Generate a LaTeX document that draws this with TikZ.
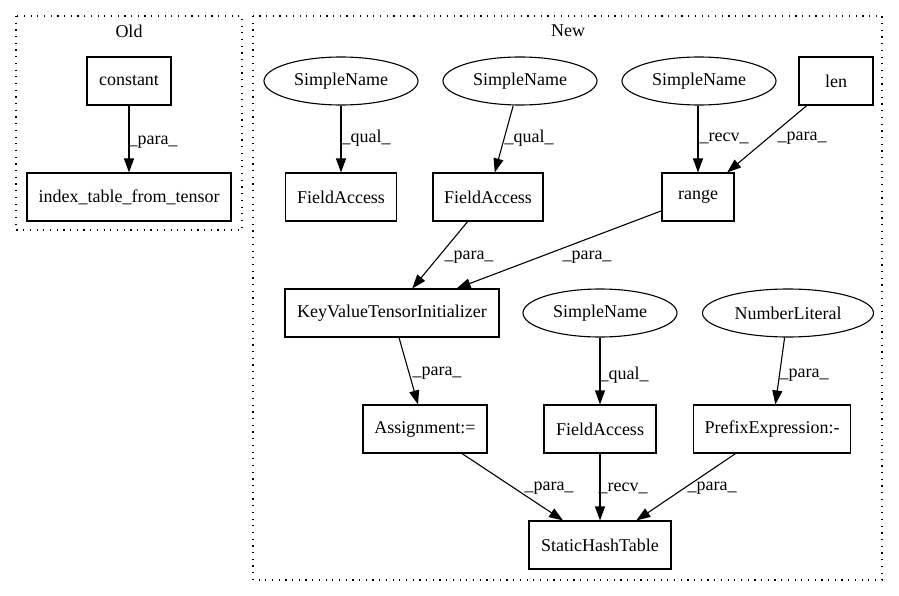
\documentclass[tikz,border=0pt]{standalone}
\usepackage{fontspec}
\setmainfont{Liberation Serif}
\usetikzlibrary{shapes.geometric,arrows.meta}
\begin{document}
\begin{tikzpicture}[x=1pt,y=-1pt,
  font=\fontsize{18}{20}\selectfont,
  box/.style={draw, rectangle, minimum height=48pt, inner sep=0pt, line width=1.1pt},
  ell/.style={draw, ellipse, minimum height=48pt, minimum width=154pt, inner sep=0pt, line width=1.1pt},
  edge/.style={draw, line width=1.1pt, -{Triangle[length=14pt,width=10pt]}},
  lbl/.style={inner sep=0pt},
  cluster/.style={draw, line width=1.2pt, dash pattern=on 1.2pt off 5.5pt}]
\useasboundingbox (0,0) rectangle (899,596);

% clusters
\draw[cluster] (16,16) rectangle (242,230);
\node[lbl] (oldt) at (129,31) {Old};
\draw[cluster] (253,16) rectangle (882,580);
\node[lbl] (newt) at (568,31) {New};

% Old nodes
\node[box, minimum width=84pt] (constant) at (129,81) {constant};
\node[box, minimum width=204pt] (idx) at (129,197) {index\_table\_from\_tensor};

% New nodes
\node[ell] (sn1) at (341,81) {SimpleName};
\node[ell] (sn2) at (520,81) {SimpleName};
\node[ell] (sn3) at (699,81) {SimpleName};
\node[box, minimum width=74pt] (len) at (836,81) {len};
\node[box, minimum width=111pt] (fa1) at (341,197) {FieldAccess};
\node[box, minimum width=110pt] (fa2) at (488,197) {FieldAccess};
\node[box, minimum width=72pt] (range) at (698,197) {range};
\node[box, minimum width=214pt] (kvti) at (392,313) {KeyValueTensorInitializer};
\node[ell] (sn4) at (600,313) {SimpleName};
\node[ell, minimum width=171pt] (nl) at (788,313) {NumberLiteral};
\node[box, minimum width=124pt] (asg) at (425,429) {Assignment:=};
\node[box, minimum width=112pt] (fa3) at (600,429) {FieldAccess};
\node[box, minimum width=157pt] (pre) at (772,429) {PrefixExpression:-};
\node[box, minimum width=142pt] (sht) at (600,545) {StaticHashTable};

% edges
\draw[edge] (constant) -- (idx);
\draw[edge] (sn1) -- (fa1);
\draw[edge] (sn2) -- (fa2);
\draw[edge] (sn3.south -| range.north) -- (range.north);
\draw[edge] (len) -- (range);
\draw[edge] (fa2) -- (kvti);
\draw[edge] (range) -- (kvti);
\draw[edge] (kvti) -- (asg);
\draw[edge] (sn4) -- (fa3);
\draw[edge] (nl) -- (pre);
\draw[edge] (asg) -- (sht);
\draw[edge] (fa3) -- (sht);
\draw[edge] (pre) -- (sht);

% edge labels
\node[lbl] (l1) at (153,142) {\_para\_};
\node[lbl] (l2) at (366,138) {\_qual\_};
\node[lbl] (l3) at (529,138) {\_qual\_};
\node[lbl] (l4) at (724,138) {\_recv\_};
\node[lbl] (l5) at (802,138) {\_para\_};
\node[lbl] (l6) at (469,257) {\_para\_};
\node[lbl] (l7) at (587,257) {\_para\_};
\node[lbl] (l8) at (437,373) {\_para\_};
\node[lbl] (l9) at (624,375) {\_qual\_};
\node[lbl] (l10) at (804,375) {\_para\_};
\node[lbl] (l11) at (549,488) {\_para\_};
\node[lbl] (l12) at (623,488) {\_recv\_};
\node[lbl] (l13) at (712,488) {\_para\_};
\end{tikzpicture}
\end{document}
